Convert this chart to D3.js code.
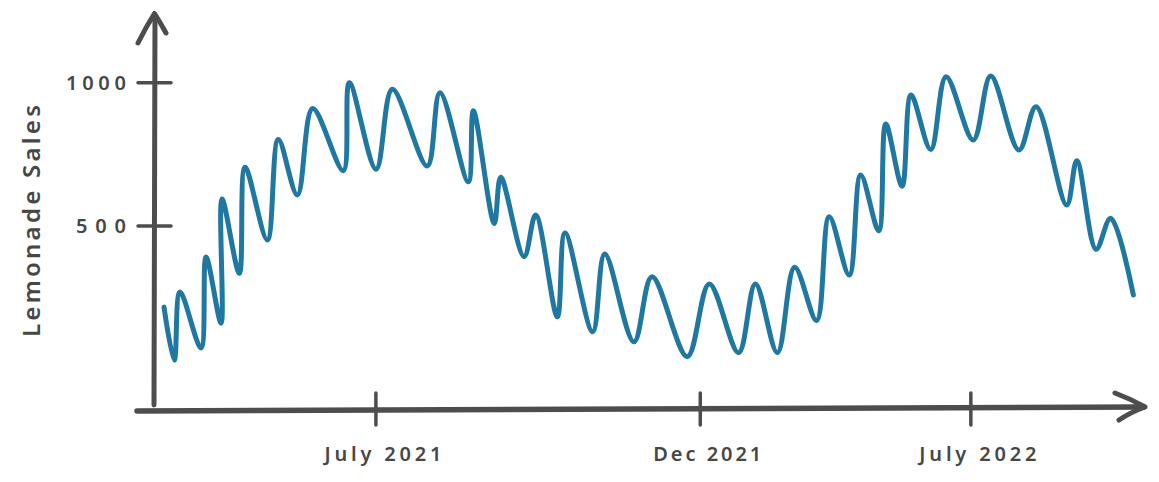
<!DOCTYPE html>
<html>
<head>
<meta charset="utf-8">
<script src="https://cdn.jsdelivr.net/npm/d3@7"></script>
<style>
  body { margin: 0; background: #fff; }
  text { font-family: "Noto Sans", sans-serif; font-weight: 600; fill: #474747; }
</style>
</head>
<body>
<script>
// day index since start of the series, and sales on that day (peaks and troughs)
var days = [0, 6.3, 9.8, 22.7, 25.8, 35, 35.6, 46.2, 49.7, 63.4, 70.1, 81.8, 91.2, 110, 113.7,
    130.1, 140.1, 161.5, 169.3, 186.7, 189.8, 202.6, 206.6, 220.9, 228, 241.3, 246, 263, 270.4,
    288.3, 299.4, 321, 334.5, 352.5, 362.8, 376.3, 386.9, 400.4, 408.1, 420.4, 427.4, 438.5,
    442.8, 452.8, 458.3, 470.4, 479.8, 496.5, 507.2, 524.5, 535, 553.8, 560, 571.8, 580.8, 594.7];
var sales = [217, 32, 270, 74, 392, 161, 594, 335, 705, 451, 802, 608, 910, 693, 1000,
    698, 977, 709, 965, 654, 902, 509, 670, 393, 538, 183, 476, 131, 402,
    96, 323, 44, 298, 58, 298, 58, 356, 170, 532, 329, 678, 483,
    856, 639, 957, 767, 1021, 800, 1023, 765, 916, 573, 728, 419, 527, 259];
var tickDays = [130, 329, 495];
var tickLabels = ["July 2021", "Dec 2021", "July 2022"];
var salesTicks = [500, 1000];
var axisTitle = "Lemonade Sales";

var width = 1159, height = 482;
var axisX = 154, baseY = 409;
var ink = "#4d4d4d";

var svg = d3.select("body").append("svg")
    .attr("width", width)
    .attr("height", height);

var x = d3.scaleLinear().domain([0, 600]).range([164, 1142]);
var y = d3.scaleLinear().domain([0, 1000]).range([369.3, 82.7]);

var data = days.map(function (d, i) { return {day: d, sales: sales[i]}; });

// axes, drawn by hand like the sketch
var axes = svg.append("g")
    .attr("fill", "none")
    .attr("stroke", ink)
    .attr("stroke-linecap", "round")
    .attr("stroke-linejoin", "round");

axes.append("path")
    .attr("stroke-width", 5)
    .attr("d", "M" + axisX + "," + (baseY - 4) + "L" + (axisX + 1) + ",15");
axes.append("path")
    .attr("stroke-width", 5)
    .attr("d", "M138,43Q146,27 154.5,13.5Q160,22 166,33");

axes.append("path")
    .attr("stroke-width", 5.5)
    .attr("d", "M137," + (baseY + 2) + "L1144," + (baseY - 2));
axes.append("path")
    .attr("stroke-width", 5)
    .attr("d", "M1115,393Q1131,399 1145,407Q1131,412 1119,420");

// x ticks
axes.selectAll(".xtick")
    .data(tickDays)
    .enter().append("line")
    .attr("class", "xtick")
    .attr("stroke-width", 3.5)
    .attr("x1", function (d) { return x(d); })
    .attr("x2", function (d) { return x(d); })
    .attr("y1", 393)
    .attr("y2", 425);

// y ticks
axes.selectAll(".ytick")
    .data(salesTicks)
    .enter().append("line")
    .attr("class", "ytick")
    .attr("stroke-width", 3.5)
    .attr("x1", 138)
    .attr("x2", 171)
    .attr("y1", function (d) { return y(d); })
    .attr("y2", function (d) { return y(d); });

// labels
svg.selectAll(".xlabel")
    .data(tickDays)
    .enter().append("text")
    .attr("class", "xlabel")
    .attr("x", function (d) { return x(d) + 7; })
    .attr("y", 461)
    .attr("text-anchor", "middle")
    .attr("font-size", 20)
    .attr("textLength", function (d, i) { return i == 1 ? 108 : 117; })
    .attr("lengthAdjust", "spacing")
    .text(function (d, i) { return tickLabels[i]; });

svg.selectAll(".ylabel")
    .data(salesTicks)
    .enter().append("text")
    .attr("class", "ylabel")
    .attr("x", 126)
    .attr("y", function (d) { return y(d) + 7; })
    .attr("text-anchor", "end")
    .attr("font-size", 20)
    .attr("textLength", function (d) { return d == 1000 ? 60 : 50; })
    .attr("lengthAdjust", "spacing")
    .text(function (d) { return d; });

svg.append("text")
    .attr("transform", "translate(40,221) rotate(-90)")
    .attr("text-anchor", "middle")
    .attr("font-size", 24)
    .attr("textLength", 232)
    .attr("lengthAdjust", "spacing")
    .text(axisTitle);

// sales line
var line = d3.line()
    .x(function (d) { return x(d.day); })
    .y(function (d) { return y(d.sales); })
    .curve(d3.curveCatmullRom.alpha(0.5));

svg.append("path")
    .datum(data)
    .attr("fill", "none")
    .attr("stroke", "#1f78a1")
    .attr("stroke-width", 5)
    .attr("stroke-linecap", "round")
    .attr("stroke-linejoin", "round")
    .attr("d", line);
</script>
</body>
</html>
